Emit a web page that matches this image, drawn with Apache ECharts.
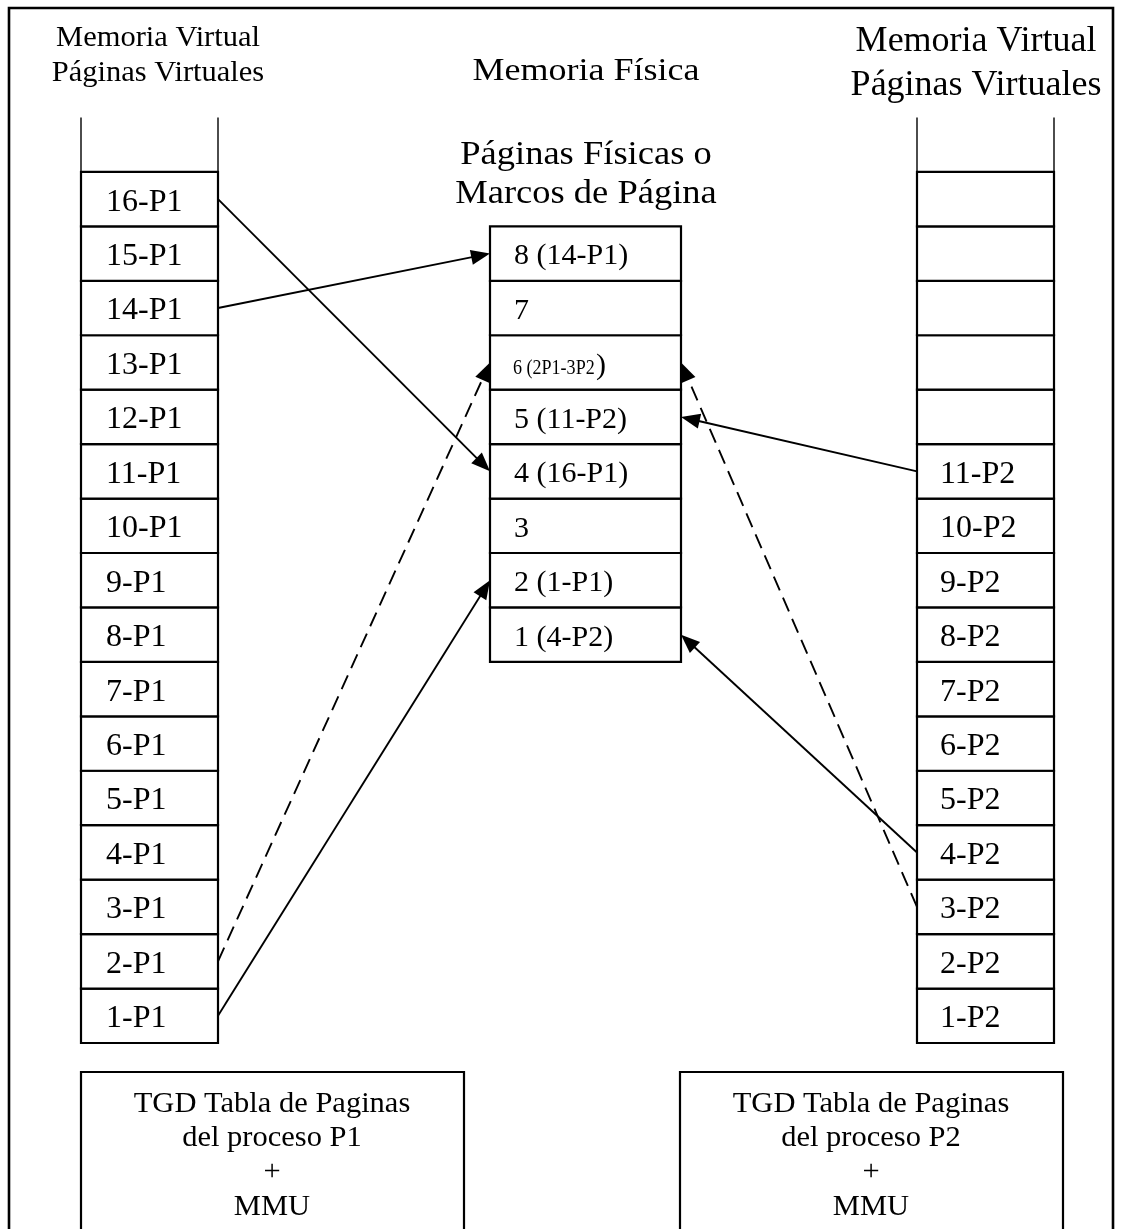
<!DOCTYPE html>
<html><head><meta charset="utf-8">
<script src="https://cdn.jsdelivr.net/npm/echarts@6/dist/echarts.min.js"></script>
<style>html,body{margin:0;padding:0;background:#fff}#c{width:1123px;height:1229px}</style>
</head><body><div id="c"></div>
<script>
// ---- data ----
const virtualP1 = ['1-P1','2-P1','3-P1','4-P1','5-P1','6-P1','7-P1','8-P1','9-P1','10-P1','11-P1','12-P1','13-P1','14-P1','15-P1','16-P1'];
const virtualP2 = ['1-P2','2-P2','3-P2','4-P2','5-P2','6-P2','7-P2','8-P2','9-P2','10-P2','11-P2','','','','',''];
const physical  = ['1 (4-P2)','2 (1-P1)','3','4 (16-P1)','5 (11-P2)','6 (2P1-3P2)','7','8 (14-P1)'];
// [process, virtual page, physical frame, dashed]
const mappings = [
  ['P1', 16, 4, false],
  ['P1', 14, 8, false],
  ['P1', 2, 6, true],
  ['P1', 1, 2, false],
  ['P2', 11, 5, false],
  ['P2', 4, 1, false],
  ['P2', 3, 6, true]
];
const headerP1 = ['Memoria Virtual', 'Páginas Virtuales'];
const headerP2 = ['Memoria Virtual', 'Páginas Virtuales'];
const headerPhys = ['Memoria Física'];
const subHeaderPhys = ['Páginas Físicas o', 'Marcos de Página'];
const tgdP1 = ['TGD Tabla de Paginas', 'del proceso P1', '+', 'MMU'];
const tgdP2 = ['TGD Tabla de Paginas', 'del proceso P2', '+', 'MMU'];

// ---- layout ----
const FONT = '"Liberation Serif","Times New Roman",serif';
const COLS = { P1: [81, 218], PHYS: [490, 681], P2: [917, 1054] };
const FRAME_OFFSET = 7; // frame k occupies slot rows [k-1+7, k+7]

function cellSeries(labels, col, offset, opts) {
  const data = labels.map((l, i) => [i + offset, i]);
  return {
    type: 'custom', coordinateSystem: 'cartesian2d', silent: true, clip: false,
    data: data,
    encode: { x: -1, y: 0 },
    renderItem: function (params, api) {
      const bottom = api.value(0);
      const idx = api.value(1);
      const top = bottom + 1;
      const x0 = COLS[col][0], x1 = COLS[col][1];
      const p0 = api.coord([x0, top]);
      const p1 = api.coord([x1, bottom]);
      const children = [{
        type: 'rect',
        shape: { x: p0[0], y: p0[1], width: p1[0] - p0[0], height: p1[1] - p0[1] },
        style: { fill: '#fff', stroke: '#000', lineWidth: 2.2 }
      }];
      const label = labels[idx];
      const cy = (p0[1] + p1[1]) / 2 + 3;
      if (label) {
        if (opts.rich && label.indexOf('2P1') >= 0) {
          const main = label.slice(0, -1);
          const tail = label.slice(-1);
          children.push({
            type: 'text', x: p0[0] + opts.pad - 1, y: cy + 3, scaleX: 0.82,
            style: { text: main, x: 0, y: 0, textAlign: 'left', textVerticalAlign: 'middle',
              font: '22px ' + FONT, fill: '#000' }
          });
          children.push({
            type: 'text',
            style: { text: tail, x: p0[0] + opts.pad + 82, y: cy + 1, textAlign: 'left', textVerticalAlign: 'middle',
              font: opts.size + 'px ' + FONT, fill: '#000' }
          });
        } else {
          children.push({
            type: 'text',
            style: {
              text: label, x: p0[0] + opts.pad, y: cy,
              textAlign: 'left', textVerticalAlign: 'middle',
              font: opts.size + 'px ' + FONT, fill: '#000'
            }
          });
        }
      }
      if (opts.header && idx === labels.length - 1) {
        const h0 = api.coord([x0, top + 1]);
        const h1 = api.coord([x1, top + 1]);
        children.push({ type: 'line', shape: { x1: h0[0], y1: h0[1], x2: p0[0], y2: p0[1] }, style: { stroke: '#000', lineWidth: 1.4 } });
        children.push({ type: 'line', shape: { x1: h1[0], y1: h1[1], x2: p1[0], y2: p0[1] }, style: { stroke: '#000', lineWidth: 1.4 } });
      }
      return { type: 'group', children: children };
    }
  };
}

const arrowSeries = {
  type: 'custom', coordinateSystem: 'cartesian2d', silent: true, clip: false,
  data: mappings.map(m => [m[1], m[2], m[3] ? 1 : 0, m[0] === 'P1' ? 1 : 2]),
  encode: { x: -1, y: 0 },
  z: 5,
  renderItem: function (params, api) {
    const page = api.value(0), frame = api.value(1), dashed = api.value(2) === 1, proc = api.value(3);
    const sx = proc === 1 ? COLS.P1[1] : COLS.P2[0];
    const ex = proc === 1 ? COLS.PHYS[0] : COLS.PHYS[1];
    const s = api.coord([sx, page - 0.5]);
    const e = api.coord([ex, frame + FRAME_OFFSET - 0.5]);
    const dx = e[0] - s[0], dy = e[1] - s[1];
    const len = Math.sqrt(dx * dx + dy * dy);
    const ux = dx / len, uy = dy / len;
    const HL = 19, HW = 7.5;
    const bx = e[0] - ux * HL, by = e[1] - uy * HL;
    return {
      type: 'group',
      children: [
        { type: 'line', shape: { x1: s[0], y1: s[1], x2: bx + ux * 2, y2: by + uy * 2 },
          style: { stroke: '#000', lineWidth: 1.9, lineDash: dashed ? [15, 8] : null } },
        { type: 'polygon', shape: { points: [[e[0], e[1]], [bx - uy * HW, by + ux * HW], [bx + uy * HW, by - ux * HW]] },
          style: { fill: '#000' } }
      ]
    };
  }
};

function textLines(lines, cx, ys, size, sy) {
  return lines.map((t, i) => ({
    type: 'text', silent: true, x: cx, y: ys[i], scaleY: sy || 1,
    style: { text: t, x: 0, y: 0, textAlign: 'center', textVerticalAlign: 'middle', font: size + 'px ' + FONT, fill: '#000' }
  }));
}

const graphics = [].concat(
  [{ type: 'rect', silent: true, shape: { x: 9, y: 8, width: 1104, height: 1250 }, style: { fill: 'none', stroke: '#000', lineWidth: 2.6 }, z: 100 }],
  textLines(headerP1, 158, [38, 73], 30.5, 0.95),
  textLines(headerP2, 976, [42, 86], 36),
  textLines(headerPhys, 586, [71], 36, 0.9),
  textLines(subHeaderPhys, 586, [155, 194], 36.5, 0.92),
  [{ type: 'rect', silent: true, shape: { x: 81, y: 1072, width: 383, height: 200 }, style: { fill: 'none', stroke: '#000', lineWidth: 2.2 } }],
  [{ type: 'rect', silent: true, shape: { x: 680, y: 1072, width: 383, height: 200 }, style: { fill: 'none', stroke: '#000', lineWidth: 2.2 } }],
  textLines(tgdP1, 272, [1104, 1138, 1172, 1207], 30.5, 0.95),
  textLines(tgdP2, 871, [1104, 1138, 1172, 1207], 30.5, 0.95)
);

const chart = echarts.init(document.getElementById('c'), null, { renderer: 'canvas' });
chart.setOption({
  animation: false,
  backgroundColor: '#fff',
  grid: { left: 0, right: 0, top: 0, bottom: 0 },
  xAxis: { type: 'value', min: 0, max: 1123, show: false },
  yAxis: { type: 'value', min: -3.417, max: 19.158, show: false },
  graphic: graphics,
  series: [
    cellSeries(virtualP1, 'P1', 0, { pad: 25, size: 32, header: true }),
    cellSeries(virtualP2, 'P2', 0, { pad: 23, size: 32, header: true }),
    cellSeries(physical, 'PHYS', FRAME_OFFSET, { pad: 24, size: 30, rich: true }),
    arrowSeries
  ]
});
</script>
</body></html>
